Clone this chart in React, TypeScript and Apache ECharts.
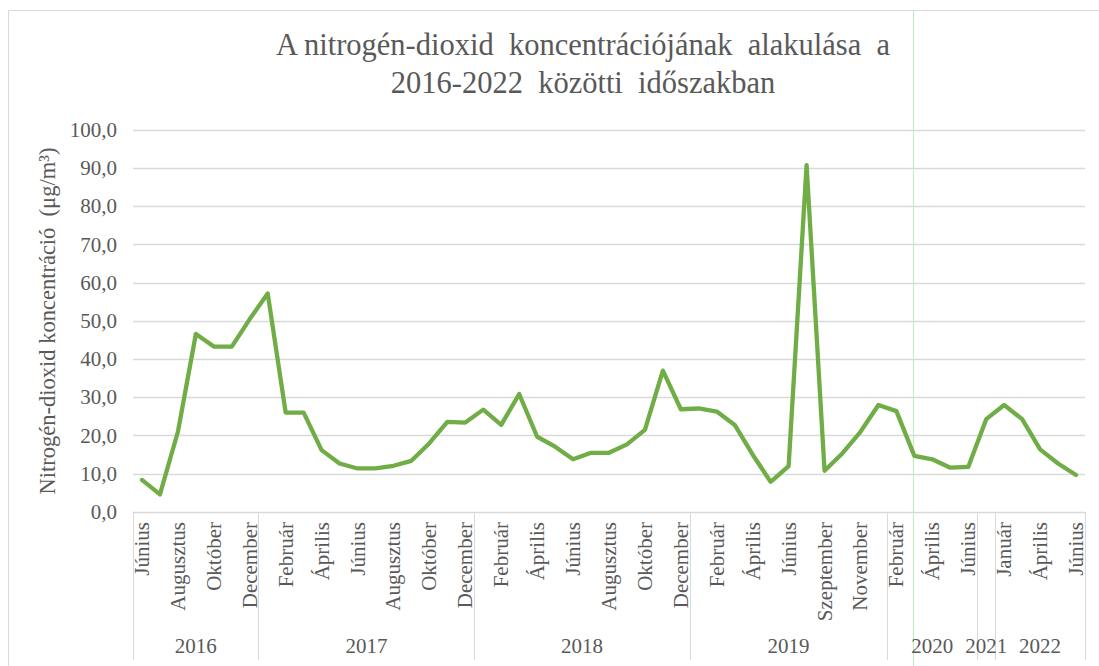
import React, { useEffect, useRef } from "react";
import * as echarts from "echarts";

// Month categories (2016 Jun – 2022 Jun, with gaps as in the source)
const months: string[] = [
  // 2016
  "Június", "Július", "Augusztus", "Szeptember", "Október", "November", "December",
  // 2017
  "Január", "Február", "Március", "Április", "Május", "Június", "Július", "Augusztus", "Szeptember", "Október", "November", "December",
  // 2018
  "Január", "Február", "Március", "Április", "Május", "Június", "Július", "Augusztus", "Szeptember", "Október", "November", "December",
  // 2019
  "Január", "Február", "Március", "Április", "Május", "Június", "Július", "Szeptember", "Október", "November", "December",
  // 2020
  "Február", "Március", "Április", "Május", "Június",
  // 2021
  "December",
  // 2022
  "Január", "Február", "Április", "Május", "Június",
];

const no2Values: number[] = [
  // 2016
  8.4, 4.6, 21.0, 46.6, 43.3, 43.3, 50.5,
  // 2017
  57.2, 26.0, 26.0, 16.2, 12.7, 11.4, 11.4, 12.1, 13.4, 18.0, 23.6, 23.4,
  // 2018
  26.8, 22.8, 30.9, 19.7, 17.1, 13.8, 15.5, 15.5, 17.7, 21.5, 37.0, 26.9,
  // 2019
  27.1, 26.3, 22.8, 15.0, 7.9, 12.0, 90.8, 10.8, 15.4, 21.0, 28.0,
  // 2020
  26.4, 14.7, 13.8, 11.6, 11.8,
  // 2021
  24.3,
  // 2022
  28.0, 24.3, 16.4, 12.7, 9.7,
];

// Years: label and number of months in each group
const years: string[] = ["2016", "2017", "2018", "2019", "2020", "2021", "2022"];
const yearMonthCounts: number[] = [7, 12, 12, 11, 5, 1, 5];

const titleLines: string[] = [
  "A nitrogén-dioxid  koncentrációjának  alakulása  a",
  "2016-2022  közötti  időszakban",
];
const yAxisTitle = "Nitrogén-dioxid koncentráció  (μg/m³)";

export default function App() {
  const ref = useRef<HTMLDivElement>(null);

  useEffect(() => {
    if (!ref.current) return;
    const chart = echarts.init(ref.current, null, { renderer: "svg" });

    // group boundaries and centres (in category units)
    const boundaries: number[] = [];
    const centres: Record<string, string> = {};
    let acc = 0;
    yearMonthCounts.forEach((n, i) => {
      boundaries.push(acc);
      centres[String((acc + n / 2) * 2)] = years[i];
      acc += n;
    });
    const total = acc;

    const serif = "'Liberation Serif', 'Times New Roman', serif";
    const textColor = "#595959";
    const gridColor = "#d9d9d9";

    chart.setOption({
      animation: false,
      title: {
        text: titleLines.join("\n"),
        left: 578,
        top: 21,
        textAlign: "center",
        textStyle: {
          fontFamily: serif,
          fontSize: 30.5,
          fontWeight: "normal",
          color: textColor,
          lineHeight: 38,
        },
      },
      grid: { left: 133, right: 14, top: 130, bottom: 154, containLabel: false },
      xAxis: [
        {
          type: "category",
          data: months,
          boundaryGap: true,
          position: "bottom",
          axisLine: { show: true, lineStyle: { color: gridColor, width: 1 } },
          axisTick: {
            show: true,
            length: 148,
            interval: (idx: number) => boundaries.indexOf(idx) >= 0,
            lineStyle: { color: gridColor, width: 1 },
          },
          axisLabel: {
            interval: (idx: number) => idx % 2 === 0,
            rotate: 90,
            margin: 10,
            fontFamily: serif,
            fontSize: 21,
            color: textColor,
          },
          splitLine: { show: false },
        },
        {
          type: "value",
          min: 0,
          max: total,
          interval: 0.5,
          position: "bottom",
          offset: 115,
          axisLine: { show: false },
          axisTick: { show: false },
          splitLine: { show: false },
          axisLabel: {
            margin: 8,
            fontFamily: serif,
            fontSize: 21,
            color: textColor,
            showMinLabel: true,
            showMaxLabel: true,
            formatter: (v: number) => centres[String(Math.round(v * 2))] || "",
          },
        },
      ],
      yAxis: {
        type: "value",
        min: 0,
        max: 100,
        interval: 10,
        name: yAxisTitle,
        nameLocation: "middle",
        nameRotate: 90,
        nameGap: 74,
        nameTextStyle: {
          fontFamily: serif,
          fontSize: 22.5,
          color: textColor,
        },
        axisLine: { show: false },
        axisTick: { show: false },
        axisLabel: {
          margin: 16,
          fontFamily: serif,
          fontSize: 21,
          color: textColor,
          formatter: (v: number) => v.toFixed(1).replace(".", ","),
        },
        splitLine: { show: true, lineStyle: { color: gridColor, width: 1.3 } },
      },
      series: [
        {
          type: "line",
          xAxisIndex: 0,
          data: no2Values,
          showSymbol: false,
          symbol: "none",
          lineStyle: { color: "#70ad47", width: 4.3, cap: "round", join: "round" },
          itemStyle: { color: "#70ad47" },
        },
      ],
      graphic: [
        {
          type: "rect",
          silent: true,
          shape: { x: 8.5, y: 10.5, width: 1200, height: 700 },
          style: { fill: "none", stroke: gridColor, lineWidth: 1 },
        },
        {
          type: "line",
          silent: true,
          shape: { x1: 913.5, y1: 11, x2: 913.5, y2: 666 },
          style: { stroke: "#b8f0b8", lineWidth: 1 },
        },
      ],
    });

    return () => chart.dispose();
  }, []);

  return (
    <div
      ref={ref}
      style={{ position: "absolute", left: 0, top: 0, width: 1099, height: 666, background: "#fff" }}
    />
  );
}
